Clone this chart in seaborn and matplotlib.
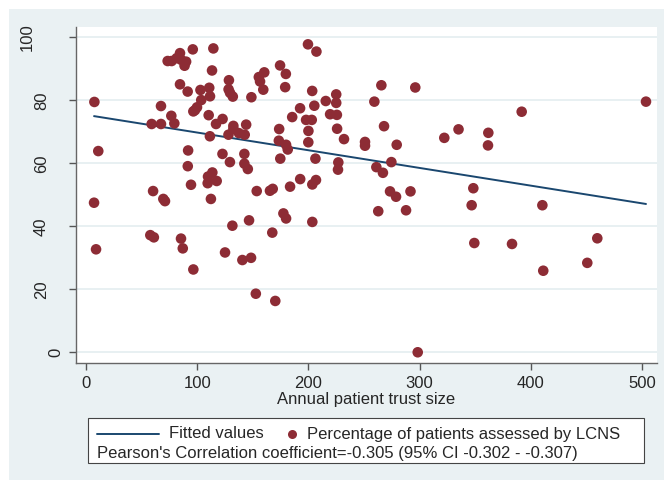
import numpy as np
import pandas as pd
import matplotlib
matplotlib.use("Agg")
import matplotlib.pyplot as plt
from matplotlib.patches import Rectangle
from matplotlib.lines import Line2D
import matplotlib.transforms as mtransforms
import seaborn as sns

# Values
trust_size = [
    7.5, 11, 7.2, 9, 59, 67.4, 67.4, 76.7, 79.4, 73.4,
    77, 81.5, 84.5, 85.5, 90, 88.6, 96, 114.5, 113.3, 84.5,
    91.4, 102.9, 110.8, 111.5, 103.6, 99.8, 96.5, 98, 110.3, 116.9,
    122.8, 111.4, 128.5, 128.2, 129.5, 132, 128.1, 132.5, 132.5, 137.5,
    142.7, 144, 148.7, 155.4, 156.5, 160.3, 159.4, 174.5, 179.7, 179.1,
    185.4, 192.5, 199.6, 207.2, 203.4, 205.3, 197.9, 203, 200, 199.9,
    215.6, 219.5, 225, 225, 225.6, 225.8, 232, 173.7, 173.4, 179.9,
    181.4, 174.7, 206.3, 192.6, 206.8, 203.5, 183.5, 165.4, 167.9, 153.5,
    91.8, 91.5, 94.4, 109.7, 113.6, 109.4, 117.5, 112.3, 122.7, 129.4,
    142.4, 142.4, 145.5, 60.3, 69.5, 71, 57.8, 61, 85.4, 87,
    96.5, 125, 131.6, 140.6, 148.4, 146.6, 152.7, 170.2, 167.5, 177.5,
    179.9, 203.5, 226.9, 226.6, 259.3, 265.6, 296.1, 268, 250.9, 250.9,
    279.4, 261.1, 267, 274.6, 273.4, 278.8, 291.8, 262.8, 287.8, 298.3,
    322.2, 335, 361.8, 361.5, 391.8, 503.6, 348.3, 346.8, 349.2, 383.1,
    410.4, 411.2, 450.8, 459.8,
]
pct_assessed = [
    79.5, 63.9, 47.5, 32.7, 72.5, 72.5, 78.2, 75.1, 72.7, 92.5,
    92.5, 93.4, 95, 92.9, 92.3, 91, 96.2, 96.5, 89.5, 85.1,
    82.8, 83.3, 84, 81.3, 80.1, 77.8, 76.5, 76.9, 75.3, 72.5,
    74.1, 68.6, 86.4, 83.5, 82.4, 81.2, 69.1, 71.9, 70.9, 69.6,
    69.1, 72.3, 81, 87.4, 86, 88.9, 83.4, 91.1, 88.4, 84.2,
    74.7, 77.5, 97.8, 95.5, 83, 78.3, 73.8, 73.8, 70.3, 66.7,
    79.8, 75.6, 81.9, 79.2, 75.4, 71, 67.7, 70.9, 67.2, 65.9,
    64.4, 61.5, 61.5, 55, 54.7, 53.3, 52.6, 51.3, 51.9, 51.2,
    64.1, 59.1, 53.2, 55.8, 57.1, 53.7, 54.4, 48.7, 63, 60.4,
    63, 59.9, 58.2, 51.2, 48.7, 48, 37.2, 36.5, 36.1, 33,
    26.3, 31.7, 40.2, 29.3, 30, 41.9, 18.6, 16.3, 38, 44.1,
    42.5, 41.4, 60.3, 58, 79.6, 84.8, 84.1, 71.8, 66.8, 65.6,
    65.9, 58.8, 57, 60.4, 51.1, 49.4, 51.1, 44.8, 45.1, 0,
    68.1, 70.8, 69.7, 65.7, 76.4, 79.6, 52.1, 46.7, 34.7, 34.4,
    46.7, 25.9, 28.4, 36.2,
]
# fitted values series (straight line), read at the ends of the data range
fit_x = [7.2, 503.6]
fit_y = [75.0, 47.1]

x_ticks = [0, 100, 200, 300, 400, 500]
y_ticks = [0, 20, 40, 60, 80, 100]
x_label = "Annual patient trust size"
legend_labels = ["Fitted values", "Percentage of patients assessed by LCNS"]
note = "Pearson's Correlation coefficient=-0.305 (95% CI -0.302 - -0.307)"

df = pd.DataFrame({"size": trust_size, "pct": pct_assessed})
fit_df = pd.DataFrame({"size": fit_x, "fitted": fit_y})

dot_color = "#8d2c35"
line_color = "#1a476f"
bg_color = "#eaf1f3"

sns.set_style("white")
plt.rcParams["font.family"] = ["Liberation Sans", "DejaVu Sans"]

W, H = 664, 490
fig = plt.figure(figsize=(W / 100, H / 100), dpi=100)
fig.patch.set_facecolor("white")
fig.patches.append(Rectangle((9 / W, 1 - 480 / H), 1, (480 - 9) / H,
                             transform=fig.transFigure, facecolor=bg_color,
                             edgecolor="none", zorder=-10))

ax_l, ax_r, ax_t, ax_b = 75.7, 657, 26.7, 363.3
ax = fig.add_axes([ax_l / W, 1 - ax_b / H, (ax_r - ax_l) / W, (ax_b - ax_t) / H])
ax.set_facecolor("white")

for yv in y_ticks:
    ax.axhline(yv, color="#e4edf0", lw=1.2, zorder=0)

sns.lineplot(data=fit_df, x="size", y="fitted", ax=ax, color=line_color, lw=1.4, zorder=2)
sns.scatterplot(data=df, x="size", y="pct", ax=ax, color=dot_color, s=58,
                edgecolor="none", zorder=3)

ax.set_xlim(-9.3, 513.5)
ax.set_ylim(-3.5, 103.4)
ax.set_xticks(x_ticks)
ax.set_yticks(y_ticks)
ax.set_yticklabels([])
ax.tick_params(axis="both", labelsize=12, length=5, width=1, color="#555555",
               direction="out", bottom=True, left=True)
ax.tick_params(axis="x", pad=4)
ax.set_xlabel(x_label, fontsize=12, labelpad=1)
ax.set_ylabel("")

# Stata-style vertical y labels: shorter labels sit closer to the axis
trans = mtransforms.blended_transform_factory(ax.transAxes, ax.transData)
for yv in y_ticks:
    s = str(yv)
    cx = 70.5 - 14.5 * len(s)
    ax.text((cx - ax_l) / (ax_r - ax_l), yv, s, transform=trans, rotation=90,
            ha="center", va="center", fontsize=12, clip_on=False)

for side in ["top", "right"]:
    ax.spines[side].set_visible(False)
for side in ["left", "bottom"]:
    ax.spines[side].set_color("#666666")
    ax.spines[side].set_linewidth(1)

# legend box like Stata's, with the note on a second row
fig.patches.append(Rectangle((88 / W, 1 - 463 / H), (644 - 88) / W, (463 - 418) / H,
                             transform=fig.transFigure, facecolor="white",
                             edgecolor="#444444", lw=0.8, zorder=1))
row1, row2 = 1 - 434 / H, 1 - 453 / H
fig.add_artist(Line2D([97 / W, 159 / W], [row1, row1], transform=fig.transFigure,
                      color=line_color, lw=1.4))
fig.text(169 / W, row1, legend_labels[0], fontsize=12, va="center", ha="left")
fig.add_artist(Line2D([292 / W], [row1], transform=fig.transFigure, marker="o", ls="",
                      color=dot_color, markersize=6.5, markeredgewidth=0))
fig.text(307 / W, row1, legend_labels[1], fontsize=12, va="center", ha="left")
fig.text(97 / W, row2, note, fontsize=12, va="center", ha="left")

fig.savefig("out.png", dpi=100, facecolor=fig.get_facecolor())
